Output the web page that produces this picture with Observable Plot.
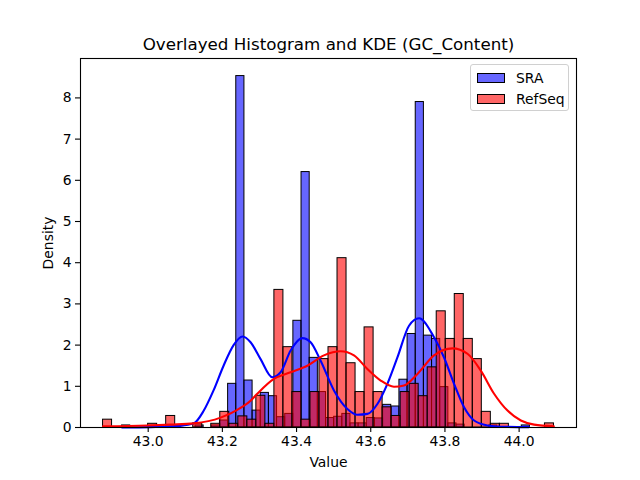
<!DOCTYPE html>
<html>
<head>
<meta charset="utf-8">
<script src="https://cdn.jsdelivr.net/npm/d3@7"></script>
<script src="https://cdn.jsdelivr.net/npm/@observablehq/plot@0.6"></script>
<style>
  html, body { margin: 0; padding: 0; background: white; }
  #wrap { position: relative; width: 640px; height: 480px; font-family: "DejaVu Sans", sans-serif; }
  .legend { position: absolute; left: 470px; top: 64px; width: 99px; height: 47px;
    border: 1px solid #d0d0d0; border-radius: 3px; background: rgba(255,255,255,0.8); box-sizing: border-box; }
  .legend .row { position: absolute; left: 6px; display: flex; align-items: center; font-size: 13.9px; color: #000; }
  .legend .sw { width: 28px; height: 10px; border: 1px solid #000; margin-right: 11px; box-sizing: border-box; }
</style>
</head>
<body>
<div id="wrap"></div>
<script>
// GC content histograms (density) for two sources, 50 bins each
const seriesNames = ["SRA", "RefSeq"];
const seriesColors = ["blue", "red"];

const sraBinStart = 42.9296;
const sraBinWidth = 0.021991;
const sraDensity = [
  0.05, 0, 0, 0, 0, 0, 0, 0, 0, 0.05,
  0, 0.05, 0.17, 1.06, 8.53, 1.14, 0.41, 0.84, 0.76, 0.25,
  0.33, 2.59, 6.2, 1.69, 0.86, 0.23, 0.26, 0.33, 0.1, 0.1,
  0.23, 0.22, 0.55, 0.51, 1.16, 2.27, 7.9, 2.23, 2.15, 0.98,
  0.1, 0.07, 0, 0, 0, 0.05, 0, 0, 0, 0.05
];

const refseqBinStart = 42.8783;
const refseqBinWidth = 0.024312;
const refseqDensity = [
  0.19, 0, 0, 0, 0, 0.09, 0, 0.28, 0, 0,
  0.1, 0, 0.09, 0.38, 0.09, 0.27, 0.19, 0.77, 0.09, 3.34,
  1.95, 0.86, 0.19, 0.86, 1.66, 1.95, 4.11, 1.56, 0.86, 2.43,
  0.86, 0.49, 0.28, 0.86, 1.06, 0.76, 1.46, 2.82, 2.15, 3.24,
  2.15, 1.66, 0.38, 0.09, 0.09, 0, 0, 0, 0, 0.1
];

// Kernel density estimates, sampled along each series' range
const sraKdeX = [42.9296, 43.0062, 43.0872, 43.1230, 43.1492, 43.1762, 43.2032, 43.2302, 43.2545,
  43.2760, 43.3030, 43.3346, 43.3570, 43.3840, 43.4155, 43.4379, 43.4649, 43.5008, 43.5370,
  43.5640, 43.5909, 43.6179, 43.6449, 43.6719, 43.7032, 43.7302, 43.7706, 43.7976, 43.8246,
  43.8516, 43.8786, 43.9147, 43.9506, 44.0262];
const sraKdeY = [0.0, 0.01, 0.04, 0.1, 0.4, 0.9, 1.5, 2.0, 2.21,
  2.07, 1.66, 1.22, 1.34, 1.87, 2.17, 2.07, 1.62, 0.9, 0.45,
  0.31, 0.33, 0.57, 1.06, 1.7, 2.47, 2.65, 2.19, 1.7, 1.06,
  0.49, 0.17, 0.05, 0.02, 0.01];

const refseqKdeX = [42.8783, 42.9973, 43.0600, 43.1230, 43.1951, 43.2402, 43.2760, 43.2941, 43.3389, 43.3840,
  43.4290, 43.4738, 43.5189, 43.5548, 43.5909, 43.6268, 43.6627, 43.6897, 43.7259, 43.7706,
  43.8203, 43.8608, 43.8967, 43.9325, 43.9687, 44.0046, 44.0405, 44.0936];
const refseqKdeY = [0.03, 0.05, 0.07, 0.1, 0.24, 0.43, 0.65, 0.82, 1.18, 1.34,
  1.5, 1.75, 1.85, 1.75, 1.42, 1.14, 0.99, 1.02, 1.3, 1.75,
  1.92, 1.79, 1.38, 0.82, 0.41, 0.17, 0.07, 0.03];

const xTicks = [43.0, 43.2, 43.4, 43.6, 43.8, 44.0];
const yTicks = [0, 1, 2, 3, 4, 5, 6, 7, 8];
const titleText = "Overlayed Histogram and KDE (GC_Content)";
const xLabel = "Value";
const yLabel = "Density";

function binRows(start, width, dens) {
  return dens.map((d, i) => ({x1: start + i * width, x2: start + (i + 1) * width, y: d})).filter(r => r.y > 0);
}
const sraRows = binRows(sraBinStart, sraBinWidth, sraDensity);
const refseqRows = binRows(refseqBinStart, refseqBinWidth, refseqDensity);
const sraKde = sraKdeX.map((x, i) => ({x, y: sraKdeY[i]}));
const refseqKde = refseqKdeX.map((x, i) => ({x, y: refseqKdeY[i]}));

// axis limits with 5% padding, as in the usual autoscaling
const lo = Math.min(sraBinStart, refseqBinStart);
const hi = Math.max(sraBinStart + sraDensity.length * sraBinWidth, refseqBinStart + refseqDensity.length * refseqBinWidth);
const pad = (hi - lo) * 0.05;
const yMax = d3.max([...sraDensity, ...refseqDensity]) * 1.05;

const chart = Plot.plot({
  width: 640,
  height: 480,
  marginLeft: 80,
  marginRight: 64,
  marginTop: 58,
  marginBottom: 53,
  style: {fontFamily: "DejaVu Sans", fontSize: "13.9px", background: "white", color: "black", overflow: "visible"},
  x: {domain: [lo - pad, hi + pad]},
  y: {domain: [0, yMax]},
  marks: [
    Plot.rectY(sraRows, {x1: "x1", x2: "x2", y: "y", inset: 0, fill: seriesColors[0], fillOpacity: 0.6, stroke: "black", strokeWidth: 1}),
    Plot.rectY(refseqRows, {x1: "x1", x2: "x2", y: "y", inset: 0, fill: seriesColors[1], fillOpacity: 0.6, stroke: "black", strokeWidth: 1}),
    Plot.line(sraKde, {x: "x", y: "y", stroke: seriesColors[0], strokeWidth: 2.1, curve: "monotone-x"}),
    Plot.line(refseqKde, {x: "x", y: "y", stroke: seriesColors[1], strokeWidth: 2.1, curve: "monotone-x"}),
    Plot.frame({stroke: "black", strokeWidth: 1.1}),
    Plot.axisX({ticks: xTicks, tickFormat: d3.format(".1f"), tickSize: 5, tickPadding: 4, strokeWidth: 1.1, label: null}),
    Plot.axisY({ticks: yTicks, tickFormat: d3.format("d"), tickSize: 5, tickPadding: 4, strokeWidth: 1.1, label: null}),
    Plot.text([xLabel], {frameAnchor: "bottom", dy: 35, lineAnchor: "middle", textAnchor: "middle", fontSize: 13.9}),
    Plot.text([yLabel], {frameAnchor: "left", dx: -32, rotate: -90, lineAnchor: "middle", textAnchor: "middle", fontSize: 13.9}),
    Plot.text([titleText], {frameAnchor: "top", dy: -14, lineAnchor: "middle", textAnchor: "middle", fontSize: 16.7})
  ]
});

const wrap = document.getElementById("wrap");
wrap.appendChild(chart);

// legend box in the upper right of the axes
const legend = document.createElement("div");
legend.className = "legend";
seriesNames.forEach((name, i) => {
  const row = document.createElement("div");
  row.className = "row";
  row.style.top = (i === 0 ? 5 : 26) + "px";
  const sw = document.createElement("div");
  sw.className = "sw";
  sw.style.backgroundColor = i === 0 ? "rgba(0,0,255,0.6)" : "rgba(255,0,0,0.6)";
  const label = document.createElement("span");
  label.textContent = name;
  row.appendChild(sw);
  row.appendChild(label);
  legend.appendChild(row);
});
wrap.appendChild(legend);
</script>
</body>
</html>
